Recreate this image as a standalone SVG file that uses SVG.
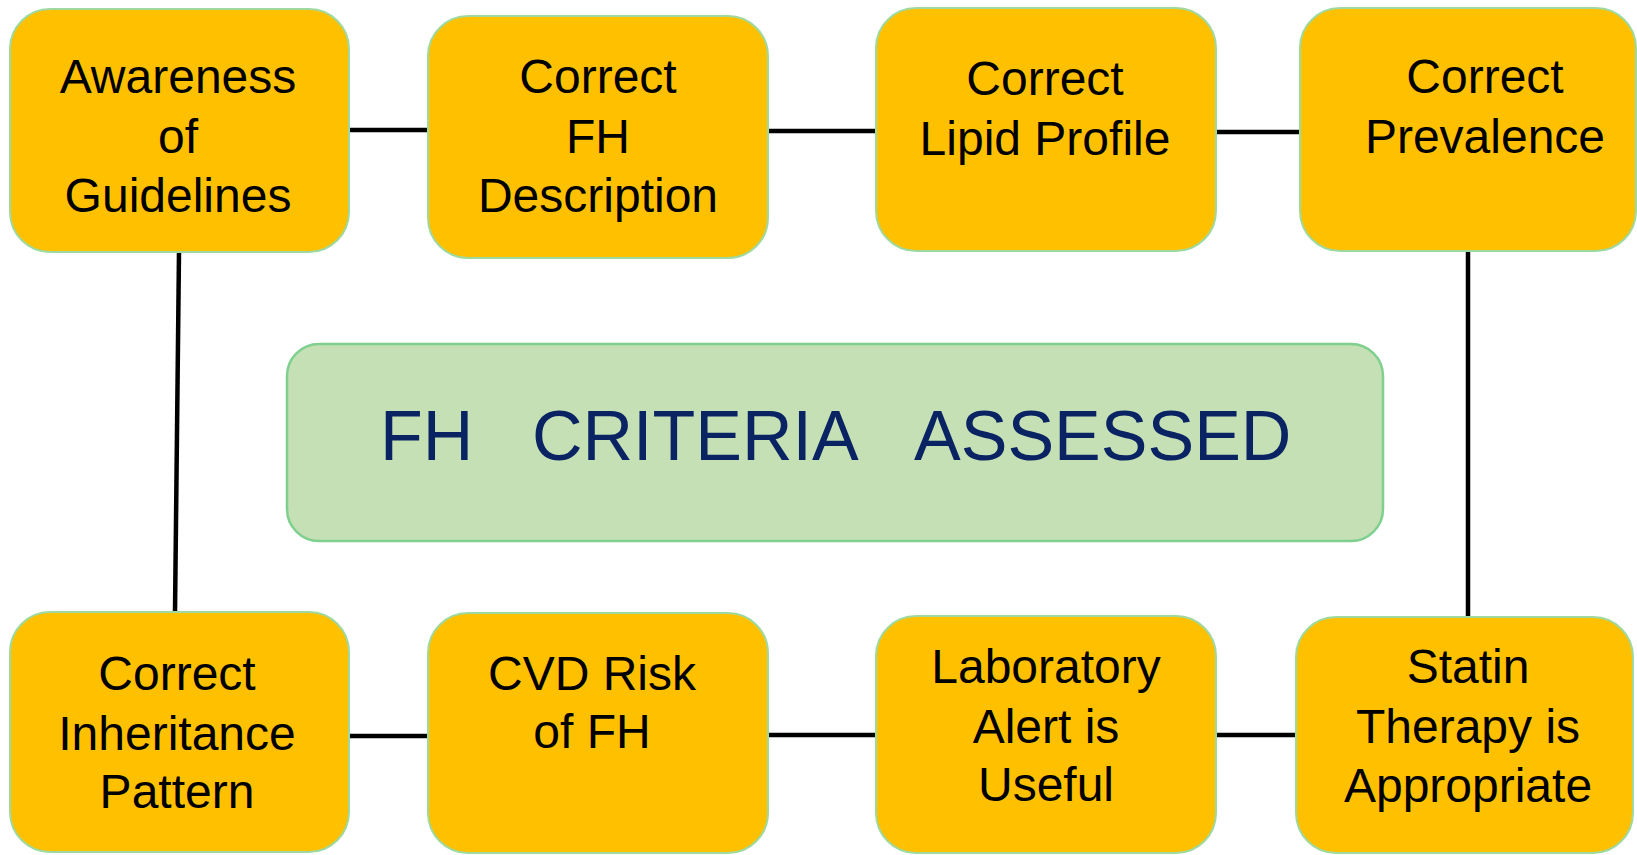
<svg xmlns="http://www.w3.org/2000/svg" width="1637" height="855" viewBox="0 0 1637 855">
<style>
.box{fill:#FFC000;stroke:#9ED9A0;stroke-width:2}
.hub{fill:#C5E0B4;stroke:#7FD08F;stroke-width:2.5}
.t{font-family:"Liberation Sans",Arial,sans-serif;font-size:48px;fill:#000;text-anchor:middle}
.h{font-family:"Liberation Sans",Arial,sans-serif;font-size:70px;fill:#0A2463}
.c{stroke:#000;stroke-width:4.5;fill:none}
</style>
<rect width="1637" height="855" fill="#fff"/>
<g id="connectors">
<line class="c" x1="349" y1="130" x2="428" y2="130"/>
<line class="c" x1="768" y1="131" x2="876" y2="131"/>
<line class="c" x1="1216" y1="132" x2="1300" y2="132"/>
<line class="c" x1="179" y1="252" x2="175" y2="612"/>
<line class="c" x1="1468" y1="251" x2="1468" y2="617"/>
<line class="c" x1="349" y1="736" x2="428" y2="736"/>
<line class="c" x1="768" y1="735" x2="876" y2="735"/>
<line class="c" x1="1216" y1="735" x2="1296" y2="735"/>
</g>
<g id="center">
<rect class="hub" x="287" y="344" width="1096" height="197" rx="32"/>
<text class="h" y="460"><tspan x="380">FH</tspan><tspan x="532">CRITERIA</tspan><tspan x="914">ASSESSED</tspan></text>
</g>
<g id="n1">
<rect class="box" x="10" y="9" width="339" height="243" rx="40"/>
<text class="t"><tspan x="178" y="93">Awareness</tspan><tspan x="178" y="153">of</tspan><tspan x="178" y="212">Guidelines</tspan></text>
</g>
<g id="n2">
<rect class="box" x="428" y="16" width="340" height="242" rx="40"/>
<text class="t"><tspan x="598" y="93">Correct</tspan><tspan x="598" y="153">FH</tspan><tspan x="598" y="212">Description</tspan></text>
</g>
<g id="n3">
<rect class="box" x="876" y="8" width="340" height="243" rx="40"/>
<text class="t"><tspan x="1045" y="95">Correct</tspan><tspan x="1045" y="155">Lipid Profile</tspan></text>
</g>
<g id="n4">
<rect class="box" x="1300" y="8" width="336" height="243" rx="40"/>
<text class="t"><tspan x="1485" y="93">Correct</tspan><tspan x="1485" y="153">Prevalence</tspan></text>
</g>
<g id="n5">
<rect class="box" x="10" y="612" width="339" height="240" rx="40"/>
<text class="t"><tspan x="177" y="690">Correct</tspan><tspan x="177" y="750">Inheritance</tspan><tspan x="177" y="808">Pattern</tspan></text>
</g>
<g id="n6">
<rect class="box" x="428" y="613" width="340" height="240" rx="40"/>
<text class="t"><tspan x="592" y="690">CVD Risk</tspan><tspan x="592" y="748">of FH</tspan></text>
</g>
<g id="n7">
<rect class="box" x="876" y="616" width="340" height="237" rx="40"/>
<text class="t"><tspan x="1046" y="683">Laboratory</tspan><tspan x="1046" y="743">Alert is</tspan><tspan x="1046" y="801">Useful</tspan></text>
</g>
<g id="n8">
<rect class="box" x="1296" y="617" width="337" height="236" rx="40"/>
<text class="t"><tspan x="1468" y="683">Statin</tspan><tspan x="1468" y="743">Therapy is</tspan><tspan x="1468" y="802">Appropriate</tspan></text>
</g>
</svg>
